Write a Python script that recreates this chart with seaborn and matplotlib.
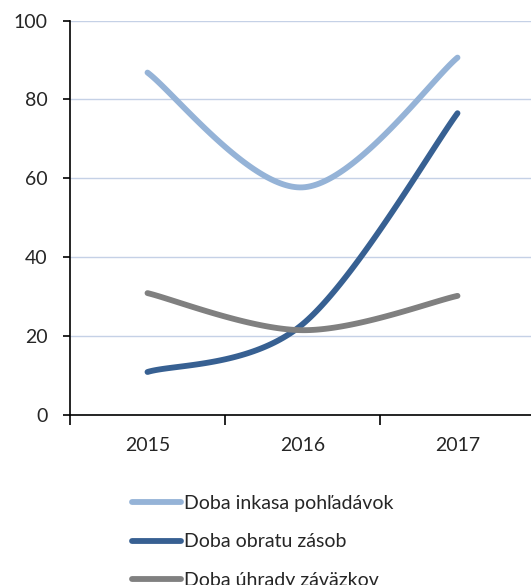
import numpy as np
import pandas as pd
import matplotlib
matplotlib.use("Agg")
import matplotlib.pyplot as plt
import seaborn as sns

# ── Data ──────────────────────────────────────────────────────────────────────
YEARS = ["2015", "2016", "2017"]
SERIES = ["Doba inkasa pohľadávok", "Doba obratu zásob", "Doba úhrady záväzkov"]
INKASA = [86.8, 57.7, 90.6]
ZASOB = [10.9, 23.0, 76.5]
UHRADY = [30.9, 21.5, 30.2]
COLORS = ["#95B3D7", "#376092", "#808080"]


def smooth_path(values, n=60):
    """Excel-style Bezier smoothing through the points (x = category index)."""
    pts = np.column_stack([np.arange(len(values)), values]).astype(float)
    ext = np.vstack([pts[0], pts, pts[-1]])
    t = np.linspace(0, 1, n)[:, None]
    out = []
    for i in range(len(pts) - 1):
        p0, p3 = ext[i + 1], ext[i + 2]
        c1 = p0 + (ext[i + 2] - ext[i]) / 6
        c2 = p3 - (ext[i + 3] - ext[i + 1]) / 6
        seg = ((1 - t) ** 3 * p0 + 3 * (1 - t) ** 2 * t * c1
               + 3 * (1 - t) * t ** 2 * c2 + t ** 3 * p3)
        out.append(seg if i == 0 else seg[1:])
    return np.vstack(out)


# ── Plot ──────────────────────────────────────────────────────────────────────
sns.set_style("white")
plt.rcParams["font.family"] = ["Lato", "DejaVu Sans"]

fig = plt.figure(figsize=(5.31, 5.85), dpi=100)
ax = fig.add_axes([70 / 531, 1 - 415 / 585, 465 / 531, 394.5 / 585])

frames = []
for name, vals in zip(SERIES, [INKASA, ZASOB, UHRADY]):
    path = smooth_path(vals)
    frames.append(pd.DataFrame({"x": path[:, 0], "y": path[:, 1], "series": name}))
df = pd.concat(frames, ignore_index=True)

sns.lineplot(data=df, x="x", y="y", hue="series", palette=COLORS,
             sort=False, estimator=None, lw=4.2, ax=ax, legend=False)
for line in ax.get_lines():
    line.set_solid_capstyle("round")

ax.set_xlim(-0.5, 2.5)
ax.set_ylim(0, 100)
ax.set_yticks(range(0, 101, 20))
ax.set_xticks(range(len(YEARS)))
ax.set_xticklabels(YEARS)
ax.set_xticks([-0.5, 0.5, 1.5, 2.5], minor=True)
ax.tick_params(axis="x", which="major", length=0, pad=16, labelsize=14)
ax.tick_params(axis="x", which="minor", length=7, width=1.2, direction="out",
               bottom=True, color="black")
ax.tick_params(axis="y", length=5, width=1.2, direction="out", left=True,
               pad=11, labelsize=14, color="black")
ax.set_xlabel("")
ax.set_ylabel("")

ax.grid(axis="y", color="#C5D1E6", lw=1.0)
ax.set_axisbelow(True)
for side in ["top", "right"]:
    ax.spines[side].set_visible(False)
for side in ["left", "bottom"]:
    ax.spines[side].set_color("black")
    ax.spines[side].set_linewidth(1.2)

handles = [plt.Line2D([], [], color=c, lw=4.2, solid_capstyle="round") for c in COLORS]
fig.legend(handles, SERIES, loc="upper left",
           bbox_to_anchor=(132 / 531, 1 - 495 / 585),
           frameon=False, fontsize=14, handlelength=2.5, handletextpad=0.15,
           labelspacing=1.1, borderpad=0, borderaxespad=0)

fig.savefig("out.png", dpi=100)
